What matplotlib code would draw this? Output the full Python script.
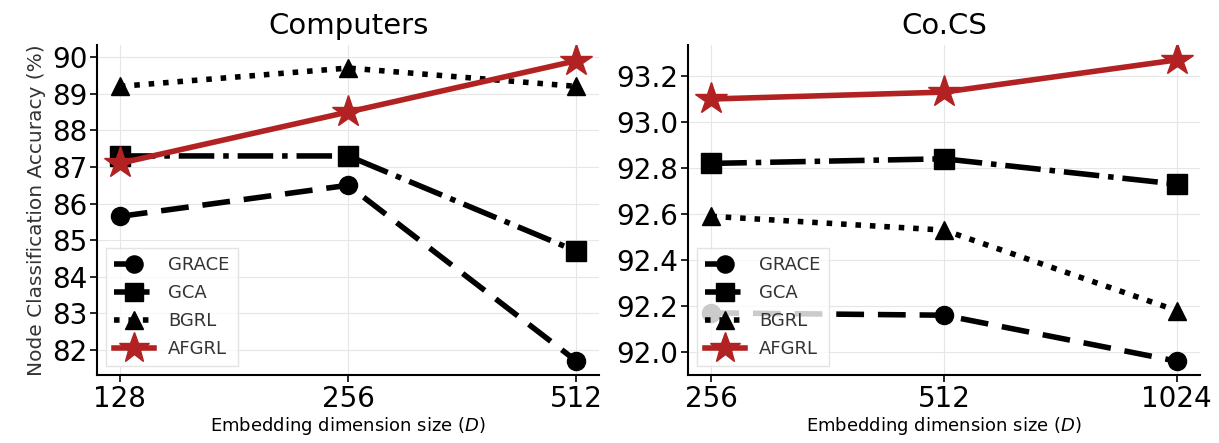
import numpy as np
import matplotlib
matplotlib.use("Agg")
import matplotlib.pyplot as plt

# datos
methods = ["GRACE", "GCA", "BGRL", "AFGRL"]
comp_dims = ["128", "256", "512"]
comp_grace = [85.65, 86.5, 81.7]
comp_gca = [87.3, 87.3, 84.7]
comp_bgrl = [89.2, 89.7, 89.2]
comp_afgrl = [87.1, 88.5, 89.9]

cs_dims = ["256", "512", "1024"]
cs_grace = [92.17, 92.16, 91.96]
cs_gca = [92.82, 92.84, 92.73]
cs_bgrl = [92.59, 92.53, 92.18]
cs_afgrl = [93.10, 93.13, 93.27]

red = "#b22222"
styles = [
    dict(color="black", ls=(0, (5, 2.5)), marker="o", ms=13),
    dict(color="black", ls="-.", marker="s", ms=14),
    dict(color="black", ls=(0, (1, 1.6)), marker="^", ms=13),
    dict(color=red, ls="-", marker="*", ms=24),
]

fig = plt.figure(figsize=(12.19, 4.43), dpi=100)
ax1 = fig.add_axes([0.0796, 0.1535, 0.412, 0.745])
ax2 = fig.add_axes([0.5644, 0.1535, 0.42, 0.745])


def panel(ax, dims, series, title, ylim, yticks, fmt):
    x = np.arange(len(dims))
    for name, y, st in zip(methods, series, styles):
        ax.plot(x, y, lw=4, label=name, **st)
    ax.set_xticks(x)
    ax.set_xticklabels(dims, fontsize=20)
    ax.set_xlim(-0.1, 2.1)
    ax.set_ylim(*ylim)
    ax.set_yticks(yticks)
    ax.set_yticklabels([fmt % v for v in yticks], fontsize=20)
    ax.set_title(title, fontsize=21, pad=8)
    ax.set_xlabel("Embedding dimension size ($\\it{D}$)", fontsize=13, labelpad=2)
    ax.grid(True, color="#e6e6e6", lw=0.8)
    ax.set_axisbelow(True)
    for s in ["top", "right"]:
        ax.spines[s].set_visible(False)
    for s in ["left", "bottom"]:
        ax.spines[s].set_linewidth(1.5)
    ax.tick_params(width=1.2, length=5, pad=2)
    leg = ax.legend(loc="lower left", fontsize=13, handlelength=2.2,
                    markerscale=0.95, borderpad=0.45, labelspacing=0.55,
                    framealpha=0.8, edgecolor="#dddddd", fancybox=False)
    for t in leg.get_texts():
        t.set_color("#333333")


panel(ax1, comp_dims, [comp_grace, comp_gca, comp_bgrl, comp_afgrl], "Computers",
      (81.32, 90.33), list(range(82, 91)), "%d")
ax1.set_ylabel("Node Classification Accuracy (%)", fontsize=14.5, labelpad=4,
               color="#333333")
panel(ax2, cs_dims, [cs_grace, cs_gca, cs_bgrl, cs_afgrl], "Co.CS",
      (91.9, 93.335), [92.0, 92.2, 92.4, 92.6, 92.8, 93.0, 93.2], "%.1f")

plt.savefig("out.png", dpi=100)
